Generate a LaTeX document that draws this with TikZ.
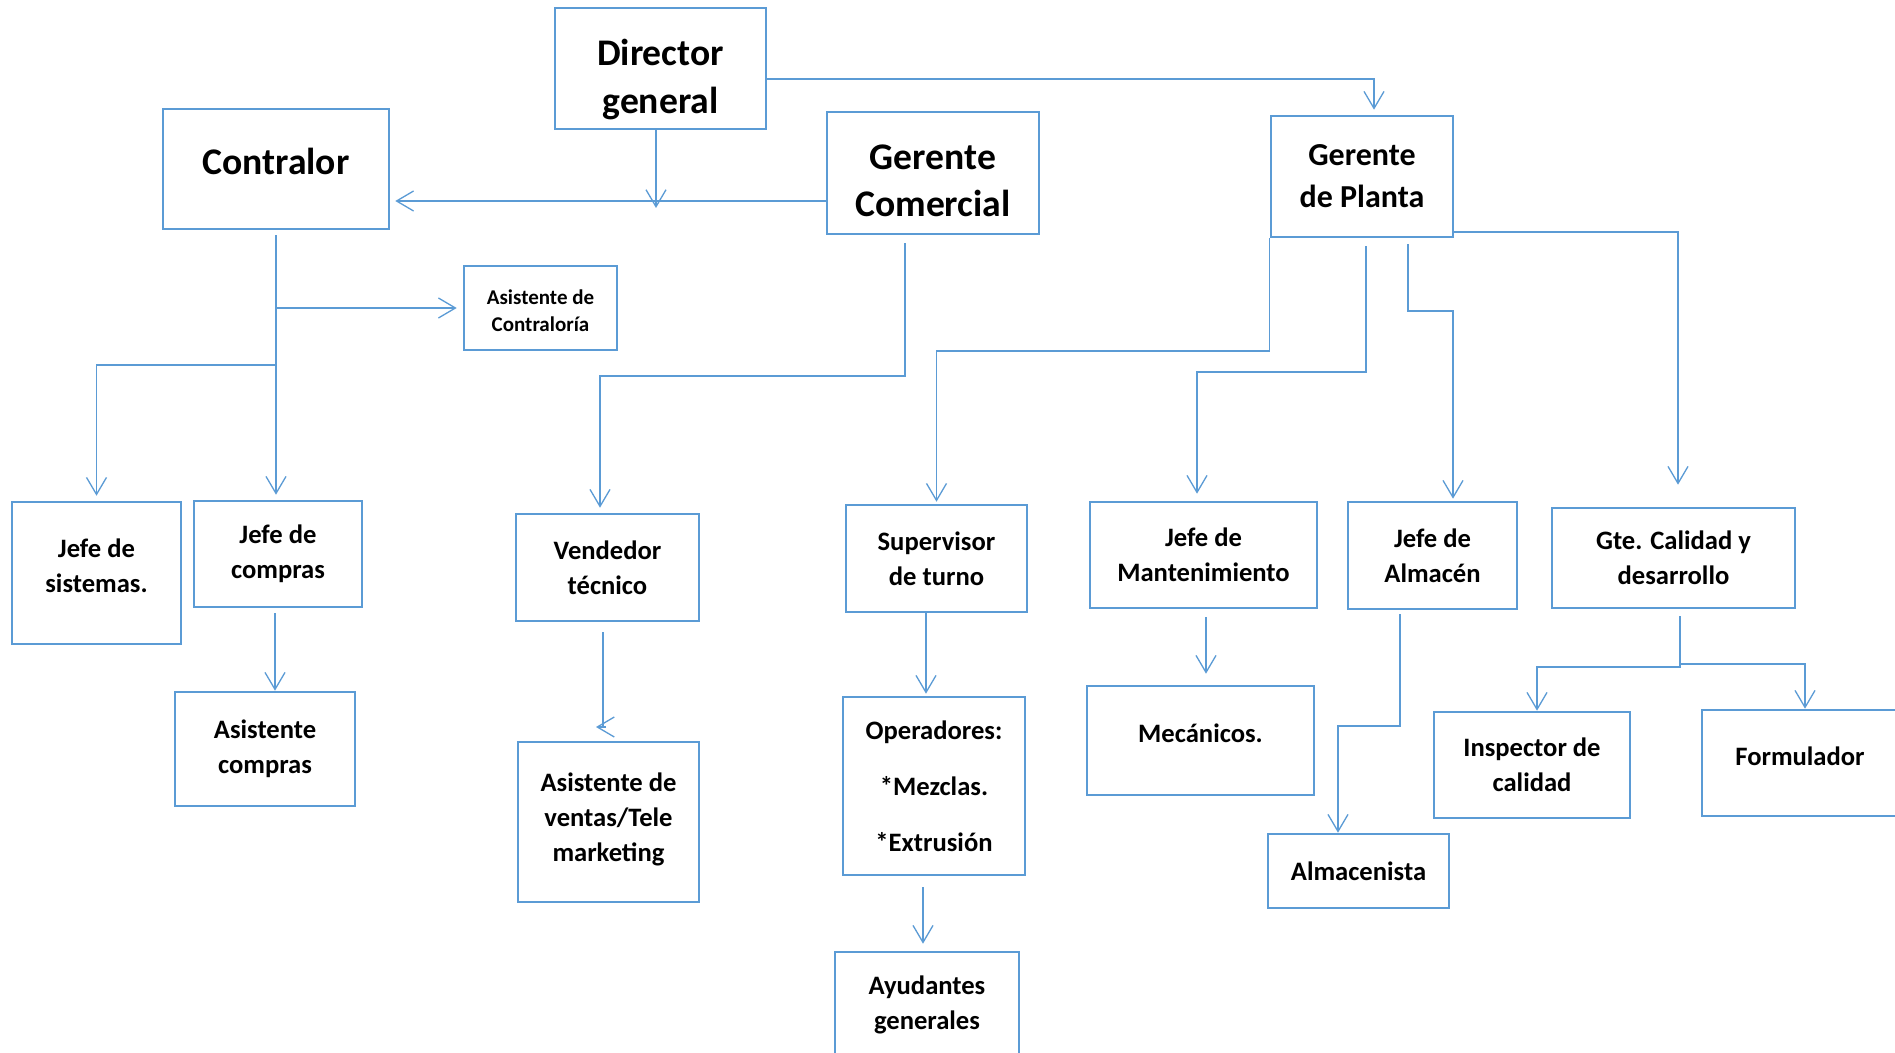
\documentclass[tikz,border=0pt]{standalone}
\usepackage{fontspec}
\setmainfont{Carlito}
\usetikzlibrary{arrows.meta}
\definecolor{bl}{RGB}{91,155,213}
\tikzset{
  box/.style={draw=bl, line width=1.3pt, align=center, inner sep=0pt, fill=white,
    font=\bfseries\fontsize{13.3}{17.5}\selectfont},
  sz/.style n args={2}{minimum width=#1*0.5pt, minimum height=#2*0.5pt},
  big/.style={font=\bfseries\fontsize{18.8}{23.5}\selectfont},
  conn/.style={draw=bl, line width=0.65pt, -{Straight Barb[length=8.5pt,width=10pt]}},
  plain/.style={draw=bl, line width=0.65pt}}
\begin{document}
\begin{tikzpicture}[x=0.5pt,y=-0.5pt]
\clip (0,0) rectangle (1895,1053);
\fill[white] (0,0) rectangle (1895,1053);
% nodes
\node[box,sz={211}{121},font=\bfseries\fontsize{18.8}{24}\selectfont] (dir) at (660.5,68.5) {\mbox{}\\[0pt]Director\\general};
\node[box,sz={226}{120},big] (contr) at (276,169) {Contralor\\[-16.2pt]\mbox{}};
\node[box,sz={212}{122},big] (com) at (933,173) {\mbox{}\\[-3.4pt]Gerente\\Comercial};
\node[box,sz={182}{121},font=\bfseries\fontsize{16}{21}\selectfont] (planta) at (1362,176.5) {Gerente\\de Planta};
\node[box,sz={153}{84},font=\bfseries\fontsize{10.5}{13.5}\selectfont] (asicon) at (540.5,308) {\mbox{}\\[-3.8pt]Asistente de\\Contraloría};
\node[box,sz={169}{142}] (sist) at (96.5,573) {Jefe de\\sistemas.\\[-10.2pt]\mbox{}};
\node[box,sz={168}{106}] (compras) at (278,554) {Jefe de\\compras};
\node[box,sz={180}{114}] (asicom) at (265,749) {Asistente\\compras};
\node[box,sz={183}{107}] (vend) at (607.5,567.5) {Vendedor\\técnico};
\node[box,sz={181}{160}] (asiven) at (608.5,822) {Asistente de\\ventas/Tele\\marketing\\[-12.7pt]\mbox{}};
\node[box,sz={181}{107}] (sup) at (936.5,558.5) {Supervisor\\de turno};
\node[box,sz={182}{178}] (oper) at (934,786) {Operadores:\\[10.5pt]*Mezclas.\\[10.5pt]*Extrusión};
\node[box,sz={184}{106}] (ayud) at (927,1005) {Ayudantes\\generales};
\node[box,sz={227}{106}] (mant) at (1203.5,555) {Jefe de\\Mantenimiento};
\node[box,sz={227}{109}] (mec) at (1200.5,740.5) {Mecánicos.\\[-10.2pt]\mbox{}};
\node[box,sz={169}{107}] (alm) at (1432.5,555.5) {Jefe de\\Almacén};
\node[box,sz={181}{74}] (almista) at (1358.5,871) {Almacenista};
\node[box,sz={243}{100}] (gte) at (1673.5,558) {Gte. Calidad y\\desarrollo};
\node[box,sz={196}{106}] (insp) at (1532,765) {Inspector de\\calidad};
\node[box,sz={196}{106}] (form) at (1800,763) {Formulador\\[-10.2pt]\mbox{}};
% helper coordinates
\coordinate (dtip) at (656,208);
\coordinate (vt) at (596,727);
\coordinate (vs) at (606,727);
\coordinate (gb) at (1680,664);
% connectors
\draw[conn, shorten >=2.5pt] (dir.east |- 0,79) -| (1374,0 |- planta.north);
\draw[conn] (656,0 |- dir.south) -- (dtip);
\draw[conn, shorten >=2.5pt] (com.west |- 0,201) -- (contr.east |- 0,201);
\draw[conn, shorten <=2.5pt, shorten >=2.5pt] (276,0 |- contr.south) -- (276,0 |- compras.north);
\draw[conn, shorten >=3pt] (contr.south |- asicon.west) -- (asicon.west);
\draw[conn, shorten >=2.5pt] (contr.south |- 0,365) -| (sist.north);
\draw[conn, shorten <=2.5pt] (275,0 |- compras.south) -- (275,0 |- asicom.north);
\draw[conn, shorten <=4pt, shorten >=2.5pt] (905,0 |- com.south) |- (600,376) -- (600,0 |- vend.north);
\draw[plain, shorten <=5pt] (603,0 |- vend.south) -- (603,727);
\draw[conn] (vs) -- (vt);
\draw[conn, shorten >=1pt] (planta.south west) -- (planta.south west |- 0,351) -| (sup.north);
\draw[conn, shorten <=4pt, shorten >=3.5pt] (1366,0 |- planta.south) |- (1197,372) -- (1197,0 |- mant.north);
\draw[conn, shorten <=3pt, shorten >=1pt] (1408,0 |- planta.south) |- (1453,311) -- (1453,0 |- alm.north);
\draw[conn, shorten >=11pt] (planta.east |- 0,232) -| (1678,0 |- gte.north);
\draw[conn, shorten <=4pt, shorten >=5.5pt] (1206,0 |- mant.south) -- (1206,0 |- mec.north);
\draw[conn, shorten <=2pt] (1400,0 |- alm.south) |- (1338,726) -- (1338,0 |- almista.north);
\draw[conn, shorten <=3.5pt] (1680,0 |- gte.south) |- (1537,667) -- (1537,0 |- insp.north);
\draw[conn] (gb) -| (1805,0 |- form.north);
\draw[conn, shorten >=1pt] (926,0 |- sup.south) -- (926,0 |- oper.north);
\draw[conn, shorten <=5.5pt, shorten >=3.5pt] (923,0 |- oper.south) -- (923,0 |- ayud.north);
\end{tikzpicture}
\end{document}
